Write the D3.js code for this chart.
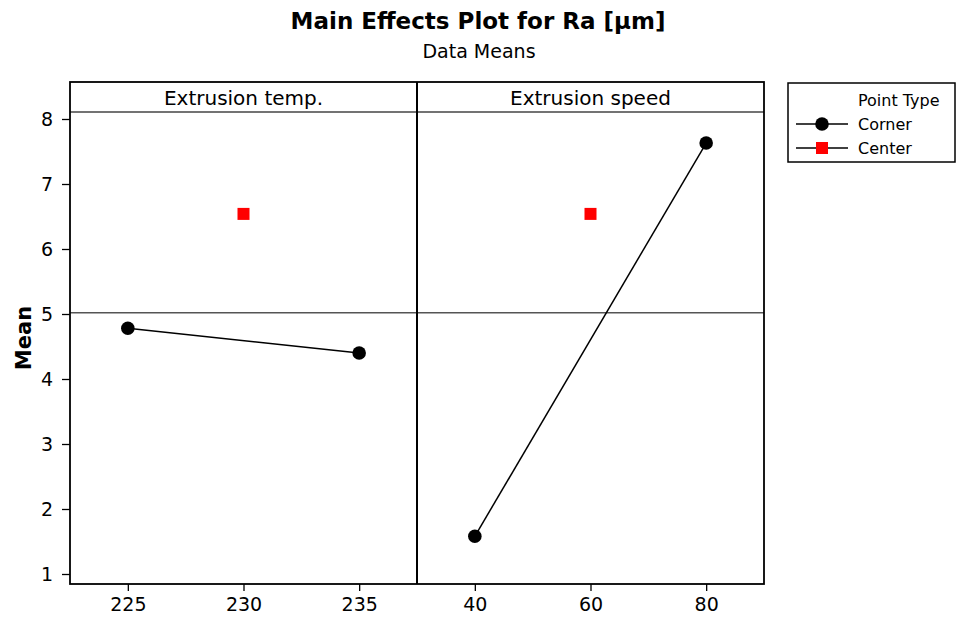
<!DOCTYPE html>
<html><head><meta charset="utf-8">
<script src="https://cdn.jsdelivr.net/npm/d3@7"></script>
<style>body{margin:0;background:#fff}svg{display:block}</style>
</head><body>
<svg id="c" width="957" height="622"></svg>
<script>
// ---- data ----
const factors = ["Extrusion temp.", "Extrusion speed"];
const tempLevels = [225, 235];
const tempCornerMeans = [4.78, 4.40];
const tempCenterLevel = [230];
const tempCenterMean = [6.54];
const speedLevels = [40, 80];
const speedCornerMeans = [1.58, 7.63];
const speedCenterLevel = [60];
const speedCenterMean = [6.54];
const grandMean = 5.02;
const yTicks = [1, 2, 3, 4, 5, 6, 7, 8];
const tempTicks = [225, 230, 235];
const speedTicks = [40, 60, 80];

const panels = [
  {name: factors[0], domain: [222.5, 237.5], ticks: tempTicks,
   corner: tempLevels.map((x, i) => ({x, y: tempCornerMeans[i]})),
   center: tempCenterLevel.map((x, i) => ({x, y: tempCenterMean[i]}))},
  {name: factors[1], domain: [30, 90], ticks: speedTicks,
   corner: speedLevels.map((x, i) => ({x, y: speedCornerMeans[i]})),
   center: speedCenterLevel.map((x, i) => ({x, y: speedCenterMean[i]}))}
];

const svg = d3.select("#c");
const font = "'DejaVu Sans', Verdana, sans-serif";
const L = 70, R = 764, T = 82, stripBottom = 112, B = 584;
const pw = (R - L) / panels.length;
const y = d3.scaleLinear().domain([1, 8]).range([574, 119]);

// title
svg.append("text").attr("x", 478).attr("y", 29).attr("text-anchor", "middle")
  .attr("font-family", font).attr("font-weight", "bold").attr("font-size", 23)
  .text("Main Effects Plot for Ra [µm]");
svg.append("text").attr("x", 479).attr("y", 58).attr("text-anchor", "middle")
  .attr("font-family", font).attr("font-size", 19).text("Data Means");

// y axis label
svg.append("text").attr("transform", "translate(31,338) rotate(-90)")
  .attr("text-anchor", "middle").attr("font-family", font).attr("font-weight", "bold")
  .attr("font-size", 21).text("Mean");

// y axis
const ya = svg.append("g").attr("transform", `translate(${L},0)`)
  .call(d3.axisLeft(y).tickValues(yTicks).tickSize(8).tickPadding(9).tickFormat(d3.format("d")));
ya.select(".domain").remove();
ya.selectAll(".tick line").attr("stroke", "#000").attr("stroke-width", 1.3);
ya.selectAll(".tick text").attr("font-family", font).attr("font-size", 19).attr("fill", "#000");

panels.forEach((p, i) => {
  const x0 = L + i * pw, x1 = x0 + pw;
  const x = d3.scaleLinear().domain(p.domain).range([x0, x1]);
  const g = svg.append("g");
  // grand mean
  g.append("line").attr("x1", x0).attr("x2", x1).attr("y1", y(grandMean)).attr("y2", y(grandMean))
    .attr("stroke", "#555").attr("stroke-width", 1.5);
  // corner line
  g.append("path").datum(p.corner)
    .attr("d", d3.line().x(d => x(d.x)).y(d => y(d.y)))
    .attr("fill", "none").attr("stroke", "#000").attr("stroke-width", 1.5);
  g.selectAll("circle").data(p.corner).join("circle")
    .attr("cx", d => x(d.x)).attr("cy", d => y(d.y)).attr("r", 6.8).attr("fill", "#000");
  g.selectAll("rect.c").data(p.center).join("rect").attr("class", "c")
    .attr("x", d => x(d.x) - 6).attr("y", d => y(d.y) - 6).attr("width", 12).attr("height", 12)
    .attr("fill", "#ff0000");
  // x axis
  const xa = svg.append("g").attr("transform", `translate(0,${B})`)
    .call(d3.axisBottom(x).tickValues(p.ticks).tickSize(7).tickPadding(7).tickFormat(d3.format("d")));
  xa.select(".domain").remove();
  xa.selectAll(".tick line").attr("stroke", "#000").attr("stroke-width", 1.3);
  xa.selectAll(".tick text").attr("font-family", font).attr("font-size", 19).attr("fill", "#000");
  // strip
  svg.append("line").attr("x1", x0).attr("x2", x1).attr("y1", stripBottom).attr("y2", stripBottom)
    .attr("stroke", "#444").attr("stroke-width", 1.5);
  svg.append("text").attr("x", (x0 + x1) / 2).attr("y", 105).attr("text-anchor", "middle")
    .attr("font-family", font).attr("font-size", 20).text(p.name);
});

// frame
svg.append("rect").attr("x", L).attr("y", T).attr("width", R - L).attr("height", B - T)
  .attr("fill", "none").attr("stroke", "#000").attr("stroke-width", 1.8);
svg.append("line").attr("x1", L + pw).attr("x2", L + pw).attr("y1", T).attr("y2", B)
  .attr("stroke", "#000").attr("stroke-width", 2);

// legend
const lg = svg.append("g");
lg.append("rect").attr("x", 788).attr("y", 83).attr("width", 167).attr("height", 79)
  .attr("fill", "none").attr("stroke", "#000").attr("stroke-width", 1.5);
lg.append("text").attr("x", 858).attr("y", 106).attr("font-family", font).attr("font-size", 16).text("Point Type");
const items = [{label: "Corner", shape: "circle", yy: 124}, {label: "Center", shape: "square", yy: 148}];
items.forEach(it => {
  lg.append("line").attr("x1", 796).attr("x2", 848).attr("y1", it.yy).attr("y2", it.yy)
    .attr("stroke", "#000").attr("stroke-width", 1.5);
  if (it.shape === "circle") lg.append("circle").attr("cx", 822).attr("cy", it.yy).attr("r", 6.8).attr("fill", "#000");
  else lg.append("rect").attr("x", 816).attr("y", it.yy - 6).attr("width", 12).attr("height", 12).attr("fill", "#ff0000");
  lg.append("text").attr("x", 858).attr("y", it.yy + 6).attr("font-family", font).attr("font-size", 16).text(it.label);
});
</script>
</body></html>
